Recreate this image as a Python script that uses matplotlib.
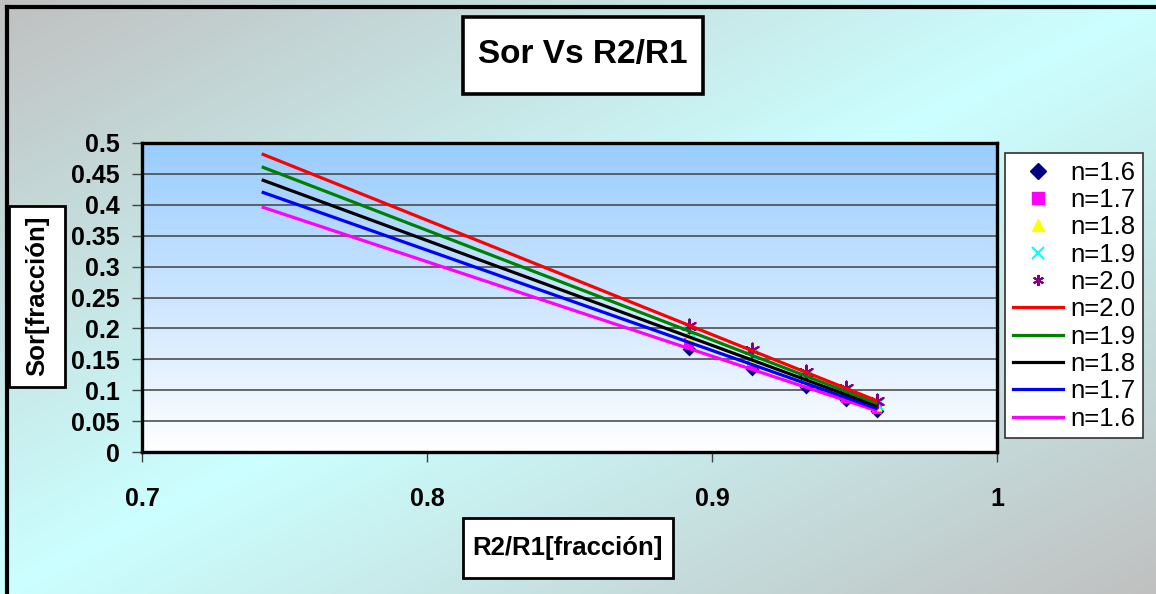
import numpy as np
import matplotlib.pyplot as plt
from matplotlib.patches import Rectangle
from matplotlib.lines import Line2D
from matplotlib.colors import LinearSegmentedColormap

# datos
r2r1 = [0.892, 0.914, 0.933, 0.947, 0.958]
sor_16 = [0.167, 0.134, 0.105, 0.0835, 0.066]
sor_17 = [0.177, 0.142, 0.111, 0.088, 0.070]
sor_18 = [0.186, 0.149, 0.117, 0.093, 0.074]
sor_19 = [0.195, 0.157, 0.1235, 0.098, 0.078]
sor_20 = [0.204, 0.165, 0.1295, 0.103, 0.082]
n_labels = ['n=1.6', 'n=1.7', 'n=1.8', 'n=1.9', 'n=2.0']
backward = 0.15  # extension de la linea de tendencia hacia atras

W, H = 1156, 594
fig = plt.figure(figsize=(W / 100, H / 100), dpi=100)
plt.rcParams['font.family'] = ['Liberation Sans', 'DejaVu Sans']

# fondo degradado gris-cian-gris en diagonal
bg = fig.add_axes([0, 0, 1, 1], zorder=-10)
yy, xx = np.mgrid[0:1:200j, 0:1:400j]
t = 1 - np.abs((xx + yy) - 1.0)
cmap_bg = LinearSegmentedColormap.from_list('bg', ['#c0c0c0', '#ccffff'])
bg.imshow(t, cmap=cmap_bg, aspect='auto', extent=[0, 1, 0, 1], origin='upper')
bg.set_axis_off()

def fx(px):
    return px / W

def fy(py):
    return 1 - py / H

ax = fig.add_axes([fx(142), fy(452), fx(997) - fx(142), fy(143) - fy(452)])
ax.set_xlim(0.7, 1.0)
ax.set_ylim(0, 0.5)

# degradado del area de trazado
grad = np.linspace(0, 1, 256).reshape(-1, 1)
cmap_pa = LinearSegmentedColormap.from_list('pa', ['#99ccff', '#ffffff'])
ax.imshow(grad, cmap=cmap_pa, aspect='auto', extent=[0.7, 1.0, 0, 0.5],
          origin='upper', zorder=0)

ax.set_yticks(np.arange(0, 0.51, 0.05))
ax.set_yticklabels(['0', '0.05', '0.1', '0.15', '0.2', '0.25', '0.3', '0.35',
                    '0.4', '0.45', '0.5'])
ax.set_xticks([0.7, 0.8, 0.9, 1.0])
ax.set_xticklabels(['0.7', '0.8', '0.9', '1'])
ax.yaxis.grid(True, color='#404040', linewidth=1.1, zorder=1)
ax.set_axisbelow(False)
ax.tick_params(axis='both', direction='out', length=7, width=1, color='#404040',
               labelsize=18)
ax.tick_params(axis='y', pad=9)
ax.tick_params(axis='x', pad=18)
for lab in ax.get_xticklabels() + ax.get_yticklabels():
    lab.set_fontweight('bold')
for s in ax.spines.values():
    s.set_linewidth(2.4)
    s.set_color('black')
    s.set_zorder(5)

series = [sor_16, sor_17, sor_18, sor_19, sor_20]
mk = [dict(marker='D', color='#000080', s=50),
      dict(marker='s', color='#ff00ff', s=45),
      dict(marker='^', color='#ffff00', s=55),
      dict(marker='x', color='#00ffff', s=60),
      dict(marker=(6, 2, 0), color='#800080', s=100)]
line_cols = ['#ff00ff', '#0000ff', '#000000', '#008000', '#ff0000']

handles_sc = []
for y, m, lab in zip(series, mk, n_labels):
    lw = 1.5 if m['marker'] in ('x', (6, 2, 0)) else 0
    ax.scatter(r2r1, y, marker=m['marker'], color=m['color'], s=m['s'],
               linewidths=lw, zorder=3, clip_on=False)
    handles_sc.append(Line2D([], [], linestyle='none', marker=m['marker'],
                             color=m['color'], markersize=8,
                             markeredgewidth=lw if lw else 1, label=lab))

# lineas de tendencia lineales
handles_ln = []
for y, c, lab in zip(series, line_cols, n_labels):
    p = np.polyfit(r2r1, y, 1)
    xs = np.array([r2r1[0] - backward, r2r1[-1]])
    ax.plot(xs, np.polyval(p, xs), color=c, linewidth=2.3, zorder=4,
            solid_capstyle='butt')
    handles_ln.append(Line2D([], [], color=c, linewidth=2.3, label=lab))

handles = handles_sc + handles_ln[::-1]
leg = fig.legend(handles=handles, loc='upper left',
                 bbox_to_anchor=(fx(1005), fy(153)), borderaxespad=0,
                 fontsize=18.5, labelspacing=0.13, handlelength=1.95,
                 handletextpad=0.3, borderpad=0.3, fancybox=False,
                 framealpha=1, edgecolor='#303030')
leg.get_frame().set_linewidth(1.2)

# cajas de titulo y etiquetas
def box(x0, y0, x1, y1, lw):
    fig.patches.append(Rectangle((fx(x0), fy(y1)), fx(x1) - fx(x0), fy(y0) - fy(y1),
                                 transform=fig.transFigure, facecolor='white',
                                 edgecolor='black', linewidth=lw, zorder=5))

box(463, 17, 703, 94, 2.6)
fig.text(fx(583), fy(55), 'Sor Vs R2/R1', ha='center', va='center',
         fontsize=24, fontweight='bold', zorder=6)
box(9, 206, 65, 387, 2.0)
fig.text(fx(37), fy(296), 'Sor[fracción]', ha='center', va='center',
         rotation=90, fontsize=18.5, fontweight='bold', zorder=6)
box(463, 518, 673, 578, 2.0)
fig.text(fx(568), fy(548), 'R2/R1[fracción]', ha='center', va='center',
         fontsize=18.5, fontweight='bold', zorder=6)

# borde exterior
fig.lines.append(Line2D([fx(7), 1], [fy(7), fy(7)], transform=fig.transFigure,
                        color='black', linewidth=3))
fig.lines.append(Line2D([fx(7), fx(7)], [fy(7), 0], transform=fig.transFigure,
                        color='black', linewidth=3))

fig.savefig('out.png', dpi=100)
